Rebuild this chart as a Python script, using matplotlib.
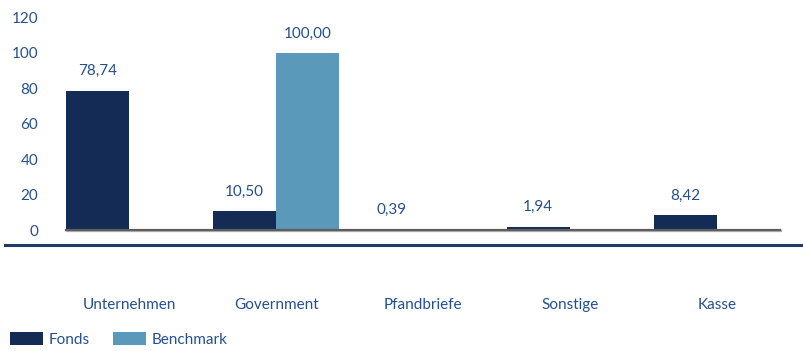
import numpy as np
import matplotlib.pyplot as plt
from matplotlib.lines import Line2D
import matplotlib.patheffects as pe

# Allocation by segment, Fonds vs. Benchmark (in %)
categories = ["Unternehmen", "Government", "Pfandbriefe", "Sonstige", "Kasse"]
fonds = [78.74, 10.50, 0.39, 1.94, 8.42]
benchmark = [0.0, 100.00, 0.0, 0.0, 0.0]
y_ticks = [0, 20, 40, 60, 80, 100, 120]

navy = "#132B55"
steel = "#5A99BA"
text_blue = "#24508F"

plt.rcParams["font.family"] = ["Lato", "DejaVu Sans"]
plt.rcParams["font.size"] = 11


def fmt(v):
    # German decimal comma, blank for empty bars
    return f"{v:.2f}".replace(".", ",") if v > 0 else ""


fig = plt.figure(figsize=(8.04, 3.51), dpi=100)
ax = fig.add_axes([66 / 804, 1 - 230 / 351, 714 / 804, 212.4 / 351])

x = np.arange(len(categories))
w = 0.43
b1 = ax.bar(x - w / 2, fonds, w, color=navy, label="Fonds")
b2 = ax.bar(x + w / 2, benchmark, w, color=steel, label="Benchmark")
ax.bar_label(b1, labels=[fmt(v) for v in fonds], padding=9, color=text_blue)
ax.bar_label(b2, labels=[fmt(v) for v in benchmark], padding=9, color=text_blue)

ax.set_xlim(-w, len(categories) - 1 + w)
ax.set_ylim(0, 120)
ax.set_yticks(y_ticks)
ax.set_xticks(x, categories)
ax.tick_params(axis="y", length=0, pad=20, colors=text_blue)
ax.tick_params(axis="x", length=0, pad=49, colors=text_blue)
for s in ax.spines.values():
    s.set_visible(False)

# baseline with a soft shadow
ax.axhline(0, color="#5E5E5E", lw=1.6, zorder=4, clip_on=False,
           path_effects=[pe.SimpleLineShadow(offset=(0.7, -0.7), shadow_color="#A0A0A0", alpha=0.8),
                         pe.Normal()])

# separator line under the plot
fig.add_artist(Line2D([5 / 804, 1.0], [1 - 245 / 351] * 2, color="#1E3A66", lw=2.2))

fig.legend(handles=[b1, b2], loc="lower left", bbox_to_anchor=(0.012, 0.012),
           ncol=2, frameon=False, borderpad=0, borderaxespad=0,
           handlelength=2.2, handleheight=0.95, handletextpad=0.35,
           columnspacing=1.5, labelcolor=text_blue)

fig.savefig("out.png", dpi=100)
